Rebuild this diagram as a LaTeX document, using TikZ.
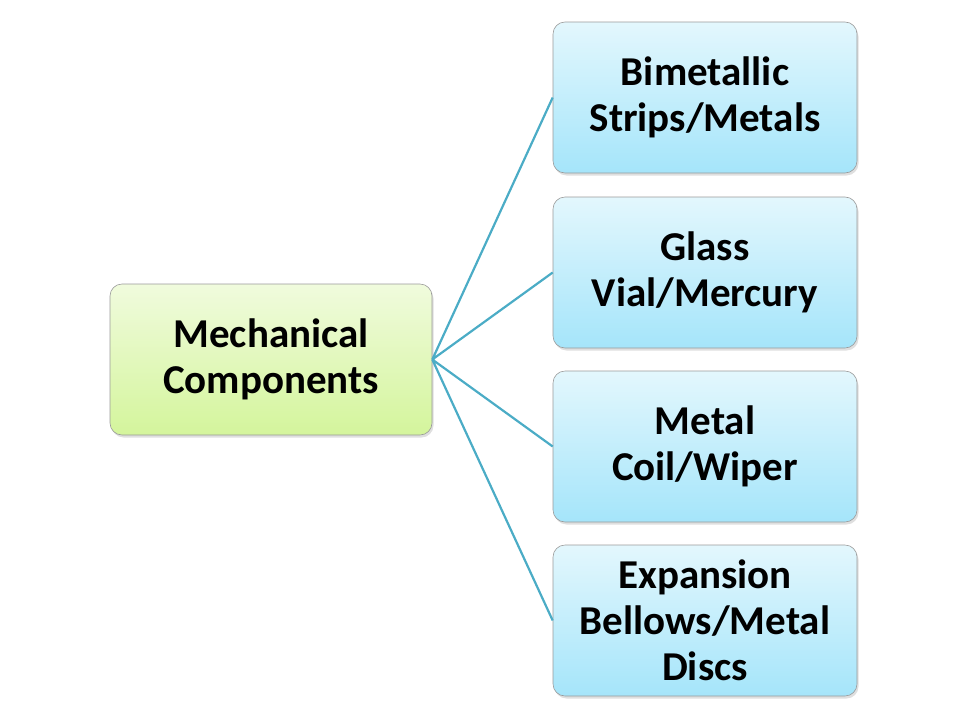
\documentclass[tikz,border=0pt]{standalone}
\usepackage{fontspec}
\setmainfont{Carlito}
\usepackage{tikz}
\usetikzlibrary{shadows}
\definecolor{green100}{HTML}{F0FBDD}
\definecolor{green300}{HTML}{D4F59C}
\definecolor{cyan100}{HTML}{E3F7FD}
\definecolor{cyan300}{HTML}{A5E5FA}
\definecolor{link500}{HTML}{4BACC6}
\definecolor{gray400}{HTML}{9A9A9A}
\tikzstyle{box}=[rectangle, rounded corners=12pt, draw=gray400, line width=0.6pt,
  minimum height=151pt, align=center, font=\fontsize{41}{46}\selectfont\bfseries,
  drop shadow={shadow xshift=1.5pt, shadow yshift=-2.5pt, opacity=0.25}]
\tikzstyle{root}=[box, minimum width=322pt, top color=green100, bottom color=green300]
\tikzstyle{leaf}=[box, minimum width=304pt, top color=cyan100, bottom color=cyan300]

\begin{document}
\begin{tikzpicture}[x=1pt, y=-1pt]
			\useasboundingbox (0,0) rectangle (960,720);
			\node[root] (mc) at (271,359.5) {Mechanical\\Components};
			\node[leaf] (c1) at (705,97.5) {Bimetallic\\Strips/Metals};
			\node[leaf] (c2) at (705,272.5) {Glass\\Vial/Mercury};
			\node[leaf] (c3) at (705,446.5) {Metal\\Coil/Wiper};
			\node[leaf] (c4) at (705,620.5) {Expansion\\Bellows/Metal\\Discs};
			\path[draw=link500, line width=2.2pt]
				(mc.east)--(c1.west)(mc.east)--(c2.west)
				(mc.east)--(c3.west)(mc.east)--(c4.west);
		\end{tikzpicture}
\end{document}
